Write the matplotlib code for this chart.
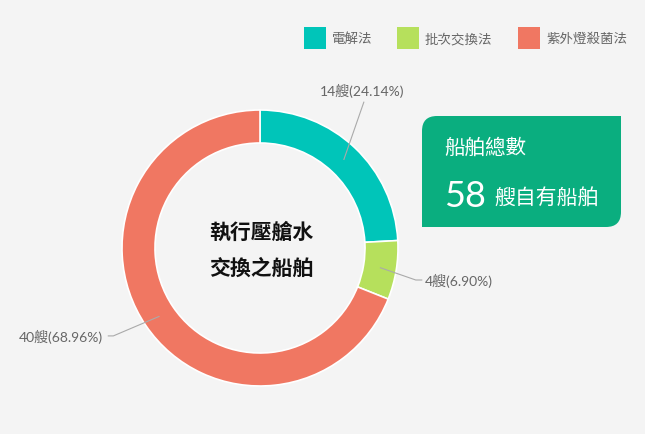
import numpy as np
import matplotlib.pyplot as plt
from matplotlib.path import Path
from matplotlib.patches import PathPatch, Rectangle

# data
methods = ["電解法", "批次交換法", "紫外燈殺菌法"]
ships = [14, 4, 40]
percents = [24.14, 6.90, 68.96]
colors = ["#00c5b9", "#b6e05c", "#f07762"]
total_ships = 58

W, H = 645, 435
CJK = ["Noto Sans CJK TC", "DejaVu Sans"]
LABEL_FONT = ["Lato", "Noto Sans CJK TC", "DejaVu Sans"]

fig = plt.figure(figsize=(6.45, 4.35), dpi=100, facecolor="#f4f4f4")
ax = fig.add_axes([0, 0, 1, 1])
ax.set_facecolor("#f4f4f4")

cx, cy = 260, H - 249
R, ring = 138, 33
wedges, _ = ax.pie(ships, colors=colors, startangle=90, counterclock=False,
                   center=(cx, cy), radius=R, frame=True,
                   wedgeprops=dict(width=ring, edgecolor="white", linewidth=1.2))

# leader lines + labels (angle tweak, end radius, tail, side)
layout = [(8.0, 179, 0, "top"), (-2.3, 159, 6, "right"), (-3.2, 171, -5, "left")]
for w, n, p, (dang, rend, tail, side) in zip(wedges, ships, percents, layout):
    mid = np.deg2rad((w.theta1 + w.theta2) / 2)
    end = np.deg2rad((w.theta1 + w.theta2) / 2 + dang)
    x0, y0 = cx + 122 * np.cos(mid), cy + 122 * np.sin(mid)
    x1, y1 = cx + rend * np.cos(end), cy + rend * np.sin(end)
    ax.plot([x0, x1, x1 + tail], [y0, y1, y1], color="#aaaaaa", lw=0.8)
    txt = f"{n}艘({p:.2f}%)"
    if side == "top":
        ax.text(x1 - 2, y1 + 5, txt, ha="center", va="bottom", fontsize=10,
                color="#666666", family=LABEL_FONT)
    elif side == "right":
        ax.text(x1 + tail + 3, y1, txt, ha="left", va="center", fontsize=10,
                color="#666666", family=LABEL_FONT)
    else:
        ax.text(x1 + tail - 5, y1, txt, ha="right", va="center", fontsize=10,
                color="#666666", family=LABEL_FONT)

# center title
ax.text(cx + 1, H - 232, "執行壓艙水", ha="center", va="center", fontsize=15,
        family=CJK, fontweight="bold", color="#111111")
ax.text(cx + 1, H - 268, "交換之船舶", ha="center", va="center", fontsize=15,
        family=CJK, fontweight="bold", color="#111111")

# legend
lx = [304, 397, 518]
for x, c, name in zip(lx, colors, methods):
    ax.add_patch(Rectangle((x, H - 50), 22, 22, facecolor=c, edgecolor="none"))
    ax.text(x + 28, H - 39, name, ha="left", va="center", fontsize=9.7,
            color="#666666", family=CJK)

# summary box, rounded top-left and bottom-right
x0, x1, yb, yt, r = 422, 621, H - 228, H - 117, 15
verts = [(x0, yb), (x0, yt - r), (x0, yt), (x0 + r, yt), (x1, yt),
         (x1, yb + r), (x1, yb), (x1 - r, yb), (x0, yb)]
codes = [Path.MOVETO, Path.LINETO, Path.CURVE3, Path.CURVE3, Path.LINETO,
         Path.LINETO, Path.CURVE3, Path.CURVE3, Path.CLOSEPOLY]
ax.add_patch(PathPatch(Path(verts, codes), facecolor="#0aae7f", edgecolor="none"))
ax.text(444, H - 148, "船舶總數", ha="left", va="center", fontsize=14.8,
        color="white", family=CJK)
ax.text(444, H - 197, str(total_ships), ha="left", va="center", fontsize=26,
        color="white", family=["Lato", "DejaVu Sans"])
ax.text(494, H - 199, "艘自有船舶", ha="left", va="center", fontsize=15,
        color="white", family=CJK)

ax.set_xlim(0, W)
ax.set_ylim(0, H)
ax.set_aspect("auto")
ax.axis("off")

fig.savefig("out.png", dpi=100, facecolor=fig.get_facecolor())
